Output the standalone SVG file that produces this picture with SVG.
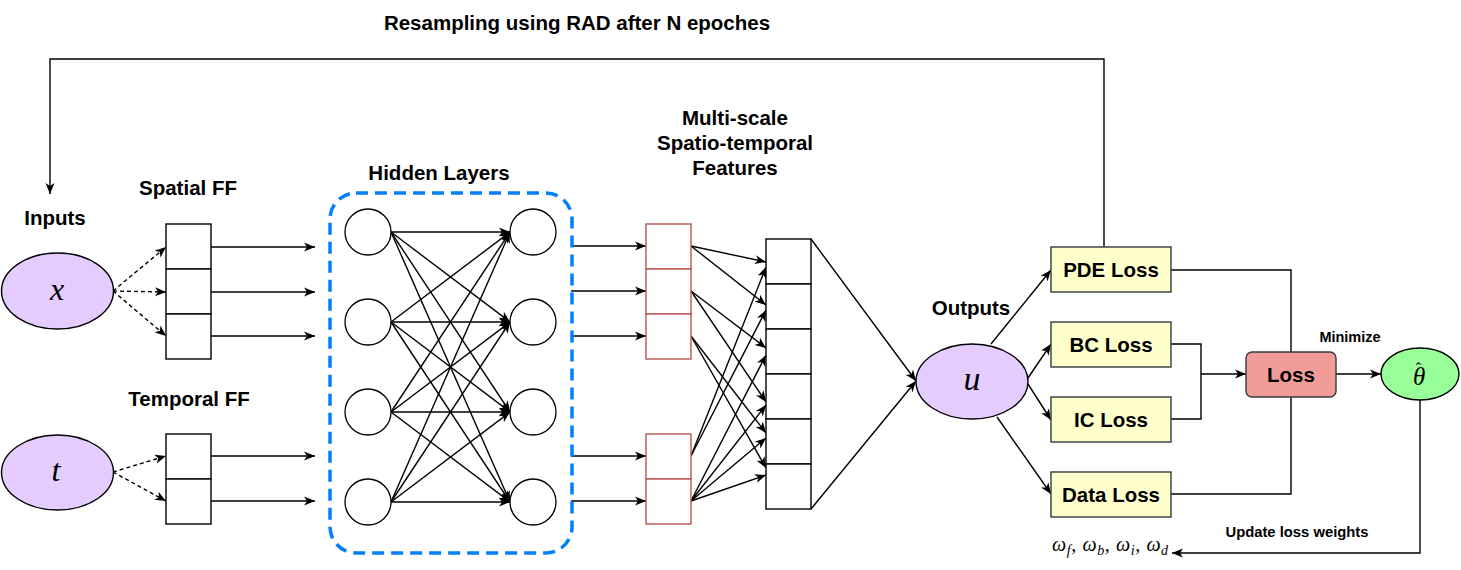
<svg xmlns="http://www.w3.org/2000/svg" width="1461" height="570" viewBox="0 0 1461 570">
<style>
.lbl{font-family:"Liberation Sans",Arial,sans-serif;font-weight:bold;font-size:20.5px;fill:#000;text-anchor:middle;dominant-baseline:central}
.sm{font-size:14.5px}
.math{font-family:"Liberation Serif","DejaVu Serif",serif;font-style:italic;fill:#000;text-anchor:middle;dominant-baseline:central}
.ln{fill:none;stroke:#000;stroke-width:1.4}
.ar{marker-end:url(#arr)}
.dsh{stroke-dasharray:4 3}
.cell{fill:#fff;stroke:#000;stroke-width:1.4}
.rcell{fill:#fff;stroke:#b85450;stroke-width:1.4}
.neu{fill:#fff;stroke:#000;stroke-width:1.3}
.inp{fill:#E5CCFF;stroke:#000;stroke-width:1.4}
.lossb{fill:#FFFFCC;stroke:#36393d;stroke-width:1.4}
</style>
<defs>
<marker id="arr" markerUnits="userSpaceOnUse" markerWidth="12" markerHeight="10" refX="11" refY="5" orient="auto">
<path d="M0,0.5 L11,5 L0,9.5 L3,5 Z" fill="#000"/>
</marker>
</defs>
<rect width="1461" height="570" fill="#fff"/>

<text class="lbl" x="577" y="22">Resampling using RAD after N epoches</text>

<g id="connectors">
<!-- feedback loop -->
<polyline class="ln ar" points="1104,247 1104,59 50,59 50,194"/>
<!-- inputs to FF -->
<line class="ln ar dsh" x1="113" y1="291" x2="166" y2="247"/>
<line class="ln ar dsh" x1="113" y1="291" x2="166" y2="292"/>
<line class="ln ar dsh" x1="113" y1="291" x2="166" y2="336"/>
<line class="ln ar dsh" x1="113" y1="472" x2="166" y2="456"/>
<line class="ln ar dsh" x1="113" y1="472" x2="166" y2="501"/>
<!-- FF to hidden -->
<line class="ln ar" x1="211" y1="247" x2="315" y2="247"/>
<line class="ln ar" x1="211" y1="292" x2="315" y2="292"/>
<line class="ln ar" x1="211" y1="336" x2="315" y2="336"/>
<line class="ln ar" x1="211" y1="456" x2="315" y2="456"/>
<line class="ln ar" x1="211" y1="501" x2="315" y2="501"/>
<!-- hidden layer full connections -->
<line class="ln ar" x1="391" y1="232" x2="510" y2="232"/>
<line class="ln ar" x1="391" y1="232" x2="510" y2="322"/>
<line class="ln ar" x1="391" y1="232" x2="510" y2="412"/>
<line class="ln ar" x1="391" y1="232" x2="510" y2="502"/>
<line class="ln ar" x1="391" y1="322" x2="510" y2="232"/>
<line class="ln ar" x1="391" y1="322" x2="510" y2="322"/>
<line class="ln ar" x1="391" y1="322" x2="510" y2="412"/>
<line class="ln ar" x1="391" y1="322" x2="510" y2="502"/>
<line class="ln ar" x1="391" y1="412" x2="510" y2="232"/>
<line class="ln ar" x1="391" y1="412" x2="510" y2="322"/>
<line class="ln ar" x1="391" y1="412" x2="510" y2="412"/>
<line class="ln ar" x1="391" y1="412" x2="510" y2="502"/>
<line class="ln ar" x1="391" y1="502" x2="510" y2="232"/>
<line class="ln ar" x1="391" y1="502" x2="510" y2="322"/>
<line class="ln ar" x1="391" y1="502" x2="510" y2="412"/>
<line class="ln ar" x1="391" y1="502" x2="510" y2="502"/>
<!-- hidden to multiscale -->
<line class="ln ar" x1="571" y1="246" x2="646" y2="246"/>
<line class="ln ar" x1="571" y1="291" x2="646" y2="291"/>
<line class="ln ar" x1="571" y1="336" x2="646" y2="336"/>
<line class="ln ar" x1="571" y1="456" x2="646" y2="456"/>
<line class="ln ar" x1="571" y1="501" x2="646" y2="501"/>
<!-- multiscale to concat -->
<line class="ln ar" x1="691" y1="246" x2="766" y2="262"/>
<line class="ln ar" x1="691" y1="246" x2="766" y2="305"/>
<line class="ln ar" x1="691" y1="291" x2="766" y2="348"/>
<line class="ln ar" x1="691" y1="291" x2="766" y2="402"/>
<line class="ln ar" x1="691" y1="336" x2="766" y2="433"/>
<line class="ln ar" x1="691" y1="336" x2="766" y2="468"/>
<line class="ln ar" x1="691" y1="456" x2="766" y2="267"/>
<line class="ln ar" x1="691" y1="456" x2="766" y2="310"/>
<line class="ln ar" x1="691" y1="501" x2="766" y2="355"/>
<line class="ln ar" x1="691" y1="501" x2="766" y2="405"/>
<line class="ln ar" x1="691" y1="501" x2="766" y2="438"/>
<line class="ln ar" x1="691" y1="501" x2="766" y2="475"/>
<!-- concat to u -->
<line class="ln ar" x1="811" y1="239" x2="916" y2="381"/>
<line class="ln ar" x1="811" y1="509" x2="916" y2="381"/>
<!-- u to losses -->
<line class="ln ar" x1="991" y1="344" x2="1051" y2="270"/>
<line class="ln ar" x1="1028" y1="378" x2="1051" y2="344"/>
<line class="ln ar" x1="1028" y1="384" x2="1051" y2="420"/>
<line class="ln ar" x1="997" y1="417" x2="1051" y2="494"/>
<!-- losses to total -->
<polyline class="ln" points="1171,270 1291,270 1291,352"/>
<polyline class="ln" points="1171,494 1291,494 1291,397"/>
<polyline class="ln" points="1171,344 1201,344 1201,419 1171,419"/>
<line class="ln ar" x1="1201" y1="374" x2="1246" y2="374"/>
<line class="ln ar" x1="1336" y1="374" x2="1381" y2="374"/>
<!-- update weights -->
<polyline class="ln ar" points="1420,400 1420,553 1172,553"/>
</g>

<g id="inputs-label"><text class="lbl" x="55" y="217">Inputs</text></g>
<g id="input-x">
<ellipse class="inp" cx="57.5" cy="291" rx="56" ry="38"/>
<text class="math" x="57" y="289" font-size="32">x</text>
</g>
<g id="input-t">
<ellipse class="inp" cx="57.5" cy="472.5" rx="56" ry="37.5"/>
<text class="math" x="56" y="470" font-size="32">t</text>
</g>

<g id="spatial-ff">
<text class="lbl" x="188" y="187">Spatial FF</text>
<rect class="cell" x="166" y="224" width="45" height="45"/>
<rect class="cell" x="166" y="269" width="45" height="45"/>
<rect class="cell" x="166" y="314" width="45" height="45"/>
</g>
<g id="temporal-ff">
<text class="lbl" x="189" y="398">Temporal FF</text>
<rect class="cell" x="166" y="434" width="45" height="45"/>
<rect class="cell" x="166" y="479" width="45" height="45"/>
</g>

<g id="hidden-layers">
<text class="lbl" x="439" y="172">Hidden Layers</text>
<rect x="330" y="193" width="242" height="360" rx="26" ry="26" fill="none" stroke="#007FFF" stroke-width="3.5" stroke-dasharray="12 7"/>
<circle class="neu" cx="368" cy="232" r="23"/>
<circle class="neu" cx="368" cy="322" r="23"/>
<circle class="neu" cx="368" cy="412" r="23"/>
<circle class="neu" cx="368" cy="502" r="23"/>
<circle class="neu" cx="533" cy="232" r="23"/>
<circle class="neu" cx="533" cy="322" r="23"/>
<circle class="neu" cx="533" cy="412" r="23"/>
<circle class="neu" cx="533" cy="502" r="23"/>
</g>

<g id="multiscale-features">
<text class="lbl" x="735" y="117">Multi-scale</text>
<text class="lbl" x="735" y="142">Spatio-temporal</text>
<text class="lbl" x="735" y="167">Features</text>
<rect class="rcell" x="646" y="224" width="45" height="45"/>
<rect class="rcell" x="646" y="269" width="45" height="45"/>
<rect class="rcell" x="646" y="314" width="45" height="45"/>
<rect class="rcell" x="646" y="434" width="45" height="45"/>
<rect class="rcell" x="646" y="479" width="45" height="45"/>
</g>

<g id="concat">
<rect class="cell" x="766" y="239" width="45" height="45"/>
<rect class="cell" x="766" y="284" width="45" height="45"/>
<rect class="cell" x="766" y="329" width="45" height="45"/>
<rect class="cell" x="766" y="374" width="45" height="45"/>
<rect class="cell" x="766" y="419" width="45" height="45"/>
<rect class="cell" x="766" y="464" width="45" height="45"/>
</g>

<g id="output-u">
<text class="lbl" x="971" y="307">Outputs</text>
<ellipse class="inp" cx="972" cy="381.5" rx="56" ry="37.5"/>
<text class="math" x="972" y="378" font-size="34">u</text>
</g>

<g id="pde-loss"><rect class="lossb" x="1051" y="247" width="120" height="45"/><text class="lbl" x="1111" y="269.5">PDE Loss</text></g>
<g id="bc-loss"><rect class="lossb" x="1051" y="322" width="120" height="45"/><text class="lbl" x="1111" y="344.5">BC Loss</text></g>
<g id="ic-loss"><rect class="lossb" x="1051" y="397" width="120" height="45"/><text class="lbl" x="1111" y="419.5">IC Loss</text></g>
<g id="data-loss"><rect class="lossb" x="1051" y="472" width="120" height="45"/><text class="lbl" x="1111" y="494.5">Data Loss</text></g>

<g id="loss">
<rect x="1246" y="352" width="90" height="45" rx="6" ry="6" fill="#F19C99" stroke="#36393d" stroke-width="1.4"/>
<text class="lbl" x="1291" y="374.5" font-size="22">Loss</text>
</g>
<g id="minimize-label"><text class="lbl sm" x="1350" y="337">Minimize</text></g>

<g id="theta">
<ellipse cx="1420" cy="374" rx="39" ry="26" fill="#99FF99" stroke="#000" stroke-width="1.4"/>
<text font-family="'Liberation Serif','DejaVu Serif',serif" font-style="italic" font-size="25" x="1413" y="385">θ<tspan font-style="normal" font-size="16" dx="-9.5" dy="-11">ˆ</tspan></text>
</g>

<g id="update-label"><text class="lbl" x="1297" y="532" style="font-size:14.8px">Update loss weights</text></g>

<g id="weights">
<text font-family="'Liberation Serif','DejaVu Serif',serif" font-style="italic" font-size="20" x="1052" y="551" letter-spacing="0.6">ω<tspan font-size="14" dy="4">f</tspan><tspan dy="-4">, ω</tspan><tspan font-size="14" dy="4">b</tspan><tspan dy="-4">, ω</tspan><tspan font-size="14" dy="4">i</tspan><tspan dy="-4">, ω</tspan><tspan font-size="14" dy="4">d</tspan></text>
</g>
</svg>
